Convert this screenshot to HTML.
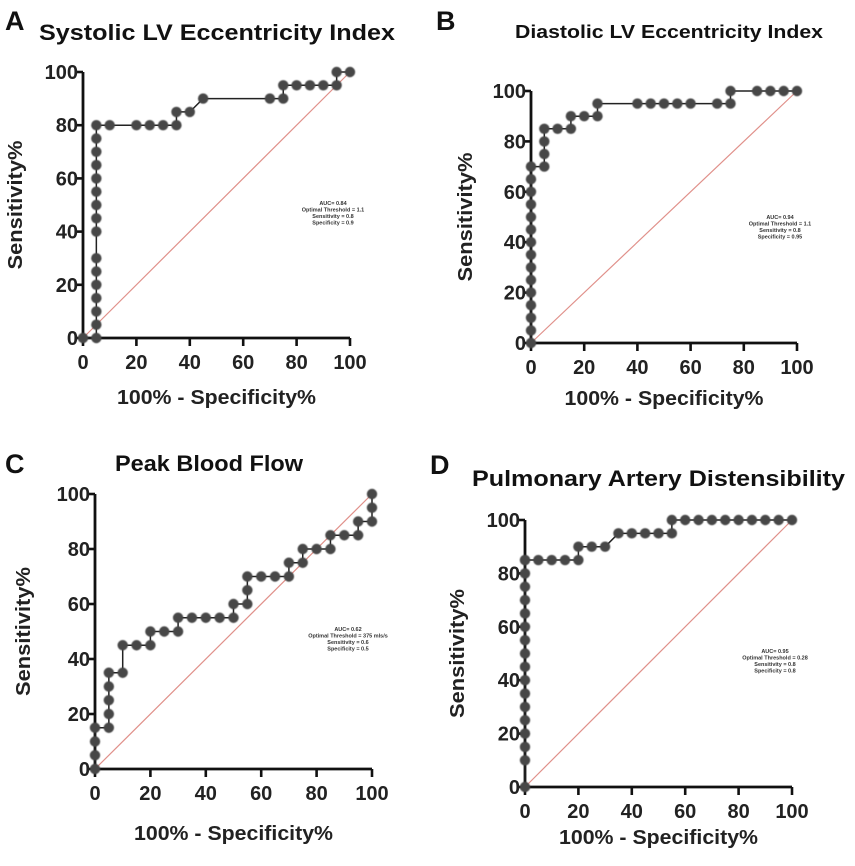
<!DOCTYPE html>
<html><head><meta charset="utf-8"><style>
html,body{margin:0;padding:0;background:#fff;}
svg{display:block;font-family:"Liberation Sans",sans-serif;}
</style></head><body>
<svg id="fig" width="855" height="866" viewBox="0 0 855 866" xmlns="http://www.w3.org/2000/svg">
<defs><filter id="blur" x="-20%" y="-20%" width="140%" height="140%"><feGaussianBlur stdDeviation="0.6"/></filter></defs>
<g font-weight="bold" fill="#111">
<text x="5" y="30" font-size="27">A</text>
<text x="39" y="40" font-size="22" textLength="356" lengthAdjust="spacingAndGlyphs">Systolic LV Eccentricity Index</text>
<text x="436" y="30" font-size="27">B</text>
<text x="515" y="38" font-size="18" textLength="308" lengthAdjust="spacingAndGlyphs">Diastolic LV Eccentricity Index</text>
<text x="5" y="473" font-size="27">C</text>
<text x="115" y="471" font-size="22" textLength="188" lengthAdjust="spacingAndGlyphs">Peak Blood Flow</text>
<text x="430" y="474" font-size="27">D</text>
<text x="472" y="486" font-size="22" textLength="373" lengthAdjust="spacingAndGlyphs">Pulmonary Artery Distensibility</text>
</g>
</svg>
<script>
const ticksVals = [0,20,40,60,80,100];
const xA = [0,5,5,5,5,5,5,5,5,5,5,5,5,5,5,5,5,10,20,25,30,35,35,40,45,70,75,75,80,85,90,95,95,100];
const yA = [0,0,5,10,15,20,25,30,40,45,50,55,60,65,70,75,80,80,80,80,80,80,85,85,90,90,90,95,95,95,95,95,100,100];
const xB = [0,0,0,0,0,0,0,0,0,0,0,0,0,0,0,5,5,5,5,10,15,15,20,25,25,40,45,50,55,60,70,75,75,85,90,95,100];
const yB = [0,5,10,15,20,25,30,35,40,45,50,55,60,65,70,70,75,80,85,85,85,90,90,90,95,95,95,95,95,95,95,95,100,100,100,100,100];
const xC = [0,0,0,0,5,5,5,5,5,10,10,15,20,20,25,30,30,35,40,45,50,50,55,55,55,60,65,70,70,75,75,80,85,85,90,95,95,100,100,100];
const yC = [0,5,10,15,15,20,25,30,35,35,45,45,45,50,50,50,55,55,55,55,55,60,60,65,70,70,70,70,75,75,80,80,80,85,85,85,90,90,95,100];
const xD = [0,0,0,0,0,0,0,0,0,0,0,0,0,0,0,0,0,0,5,10,15,20,20,25,30,35,40,45,50,55,55,60,65,70,75,80,85,90,95,100];
const yD = [0,10,15,20,25,30,35,40,45,50,55,60,65,70,75,80,85,85,85,85,85,85,90,90,90,95,95,95,95,95,100,100,100,100,100,100,100,100,100,100];
const annA = ["AUC= 0.84","Optimal Threshold = 1.1","Sensitivity = 0.8","Specificity = 0.9"];
const annB = ["AUC= 0.94","Optimal Threshold = 1.1","Sensitivity = 0.8","Specificity = 0.95"];
const annC = ["AUC= 0.62","Optimal Threshold = 375 mls/s","Sensitivity = 0.6","Specificity = 0.5"];
const annD = ["AUC= 0.95","Optimal Threshold = 0.28","Sensitivity = 0.8","Specificity = 0.8"];

const NS="http://www.w3.org/2000/svg";
const svg=document.getElementById('fig');
function mk(tag,attrs,parent){const e=document.createElementNS(NS,tag);for(const k in attrs)e.setAttribute(k,attrs[k]);(parent||svg).appendChild(e);return e;}

function panel(id,P,xs,ys,ann){
  const g=mk('g',{});
  
  
  const sx=v=>P.x0+(P.x1-P.x0)*v/100;
  const sy=v=>P.y0+(P.y1-P.y0)*v/100;
  const d=mk('line',{x1:sx(0),y1:sy(0),x2:sx(100),y2:sy(100),stroke:'#e0908a','stroke-width':1.2},g);
  
  
  const ax=mk('path',{d:`M${sx(0)},${sy(100)}V${sy(0)}H${sx(100)}`,stroke:'#111','stroke-width':2.8,fill:'none'},g);
  
  
  ticksVals.forEach(t=>{
    mk('line',{x1:sx(0)-7,x2:sx(0),y1:sy(t),y2:sy(t),stroke:'#111','stroke-width':2.6},g);
    mk('line',{x1:sx(t),x2:sx(t),y1:sy(0),y2:sy(0)+8,stroke:'#111','stroke-width':2.6},g);
    const yl=mk('text',{x:sx(0)-5,y:sy(t)+7,'text-anchor':'end','font-size':20,'font-weight':'bold',fill:'#222'},g);
    yl.textContent=t;
    
    
    const xl=mk('text',{x:sx(t),y:sy(0)+31,'text-anchor':'middle','font-size':20,'font-weight':'bold',fill:'#222'},g);
    xl.textContent=t;
    
    
  });
  const xt=mk('text',{x:(sx(0)+sx(100))/2-(P.xoff||0),y:P.xly,'text-anchor':'middle','font-size':20,'font-weight':'bold',fill:'#222',textLength:199,lengthAdjust:'spacingAndGlyphs'},g);
  xt.textContent='100% - Specificity%';
  
  
  const yt=mk('text',{x:0,y:0,transform:`translate(${P.ylx},${(sy(0)+sy(100))/2}) rotate(-90)`,'text-anchor':'middle','font-size':20,'font-weight':'bold',fill:'#222',textLength:129,lengthAdjust:'spacingAndGlyphs'},g);
  yt.textContent='Sensitivity%';
  
  
  const pts=xs.map((v,i)=>sx(v)+','+sy(ys[i])).join(' ');
  const pl=mk('polyline',{points:pts,fill:'none',stroke:'#222','stroke-width':1.5},g);
  
  
  const mg=mk('g',{filter:'url(#blur)'},g);
  xs.forEach((v,i)=>{
    const c=mk('circle',{cx:sx(v),cy:sy(ys[i]),r:5.2,fill:'#474747'},mg);
    
    
  });
  ann.forEach((s,i)=>{
    const a=mk('text',{x:P.ax,y:P.ay+i*6.5,'text-anchor':'middle','font-size':5.5,'font-weight':'bold',fill:'#333'},g);
    a.textContent=s;
    
    
  });
}
panel('a',{x0:83,x1:350,y0:338,y1:72,xly:404,ylx:22,ax:333,ay:205},xA,yA,annA);
panel('b',{x0:531,x1:797,y0:343,y1:91,xly:405,ylx:472,ax:780,ay:219},xB,yB,annB);
panel('c',{x0:95,x1:372,y0:769,y1:494,xly:840,ylx:30,ax:348,ay:631},xC,yC,annC);
panel('d',{x0:525,x1:792,y0:787,y1:520,xly:844,ylx:464,ax:775,ay:653},xD,yD,annD);
</script>
</body></html>
